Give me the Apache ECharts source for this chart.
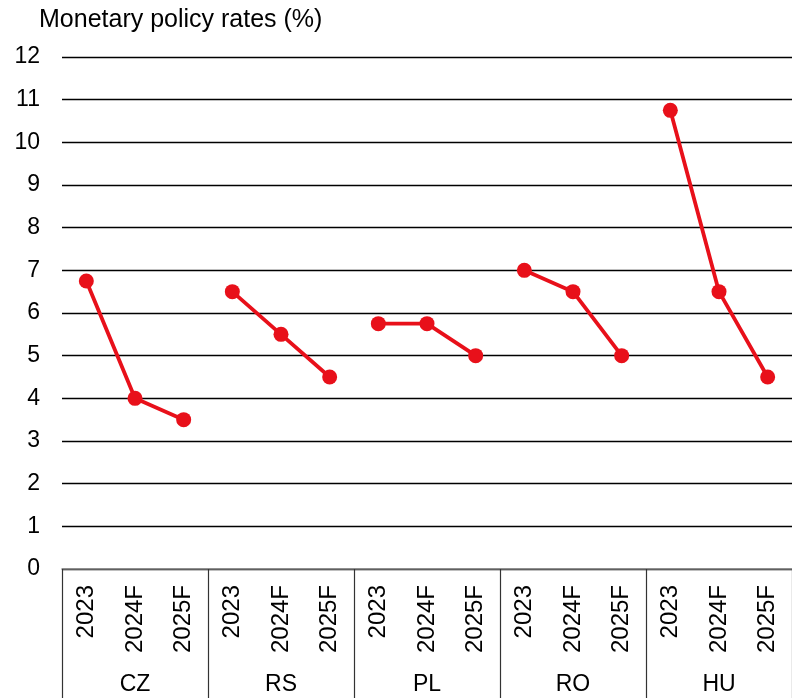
<!DOCTYPE html>
<html>
<head>
<meta charset="utf-8">
<script src="https://cdn.jsdelivr.net/npm/echarts@6/dist/echarts.min.js"></script>
<style>html,body{margin:0;padding:0;background:#fff;}#chart{width:792px;height:698px;}</style>
</head>
<body>
<div id="chart"></div>
<script>
var countries = ['CZ', 'RS', 'PL', 'RO', 'HU'];
var years = ['2023', '2024F', '2025F'];
var CZ = [6.75, 4.0, 3.5];
var RS = [6.5, 5.5, 4.5];
var PL = [5.75, 5.75, 5.0];
var RO = [7.0, 6.5, 5.0];
var HU = [10.75, 6.5, 4.5];
var yTicks = [0, 12, 1];
var title = 'Monetary policy rates (%)';

var values = [CZ, RS, PL, RO, HU];
var cats = [];
countries.forEach(function (c) { years.forEach(function (y) { cats.push(c + '|' + y); }); });

var font = 'Liberation Sans, Arial, sans-serif';
var red = '#e8101a';
var series = values.map(function (vals, g) {
  var d = cats.map(function () { return null; });
  vals.forEach(function (v, i) { d[g * 3 + i] = v; });
  return {
    type: 'line', xAxisIndex: 0, data: d, connectNulls: false,
    symbol: 'circle', symbolSize: 15,
    lineStyle: { color: red, width: 3.8 },
    itemStyle: { color: red },
    animation: false
  };
});

var chart = echarts.init(document.getElementById('chart'));
chart.setOption({
  backgroundColor: '#fff',
  animation: false,
  title: { text: title, left: 34, top: 3, textStyle: { fontFamily: font, fontSize: 25, fontWeight: 'normal', color: '#000' } },
  grid: { left: 62, top: 57, width: 732, height: 512 },
  xAxis: [{
    type: 'category', data: cats, position: 'bottom',
    axisLine: { show: true, lineStyle: { color: '#808080', width: 1.5 } },
    axisTick: { show: false },
    axisLabel: { interval: 0, rotate: 90, margin: 16, fontFamily: font, fontSize: 24, color: '#000',
      formatter: function (v) { return v.split('|')[1]; } }
  }, {
    type: 'category', data: countries, position: 'bottom',
    axisLine: { show: false },
    axisTick: { show: true, length: 130, lineStyle: { color: '#333', width: 1.2 } },
    axisLabel: { interval: 0, margin: 104, fontFamily: font, fontSize: 23, color: '#000' }
  }],
  yAxis: {
    type: 'value', min: yTicks[0], max: yTicks[1], interval: yTicks[2],
    axisLine: { show: false }, axisTick: { show: false },
    axisLabel: { margin: 22, fontFamily: font, fontSize: 23, color: '#000' },
    splitLine: { lineStyle: { color: '#000', width: 1.3 } }
  },
  series: series
});
</script>
</body>
</html>
